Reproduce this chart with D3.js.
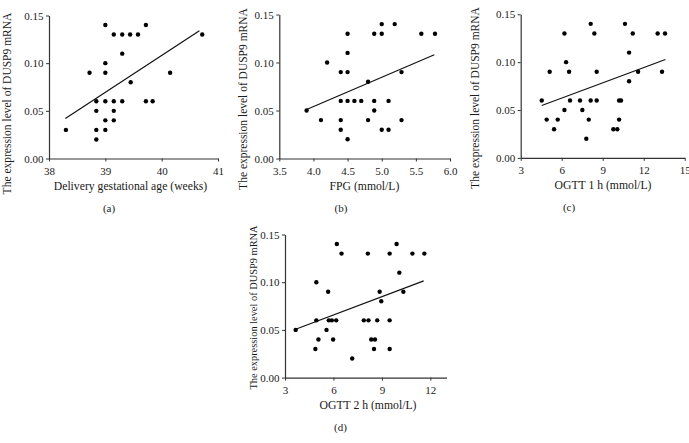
<!DOCTYPE html>
<html>
<head>
<meta charset="utf-8">
<script src="https://cdn.jsdelivr.net/npm/d3@7"></script>
<style>
  html, body { margin: 0; padding: 0; background: #fff; }
  svg { display: block; }
  text { font-family: "Liberation Serif", "Times New Roman", serif; fill: #1a1a1a; }
</style>
</head>
<body>
<svg id="chart" width="689" height="443"></svg>
<script>
// ---------------- DATA ----------------
const yTickValues = [0, 0.05, 0.10, 0.15];
const yTickLabels = ["0.00", "0.05", "0.10", "0.15"];
const yTitle = "The expression level of DUSP9 mRNA";

// (a) Delivery gestational age
const aX = [38.30, 38.84, 38.84, 38.84, 38.84, 38.72, 39.00, 39.00, 39.00, 39.00, 39.00, 39.00,
            39.15, 39.15, 39.15, 39.15, 39.30, 39.30, 39.30, 39.44, 39.45, 39.58, 39.72, 39.72,
            39.84, 40.15, 40.72];
const aY = [0.03, 0.06, 0.05, 0.03, 0.02, 0.09, 0.14, 0.10, 0.09, 0.06, 0.04, 0.03,
            0.13, 0.06, 0.05, 0.04, 0.13, 0.11, 0.06, 0.13, 0.08, 0.13, 0.14, 0.06,
            0.06, 0.09, 0.13];
const aFitX = [38.29, 40.67];
const aFitY = [0.042, 0.134];
const aTicks = [38, 39, 40, 41];
const aTickLabels = ["38", "39", "40", "41"];
const aTitle = "Delivery gestational age (weeks)";

// (b) FPG
const bX = [3.90, 4.11, 4.20, 4.40, 4.50, 4.50, 4.50, 4.40, 4.50, 4.60, 4.70, 4.40, 4.40, 4.50,
            4.80, 4.80, 4.89, 4.89, 4.89, 5.00, 5.00, 5.00, 5.10, 5.10, 5.19, 5.29, 5.29, 5.58, 5.78];
const bY = [0.05, 0.04, 0.10, 0.09, 0.09, 0.13, 0.11, 0.06, 0.06, 0.06, 0.06, 0.04, 0.03, 0.02,
            0.08, 0.04, 0.13, 0.06, 0.05, 0.14, 0.13, 0.03, 0.06, 0.03, 0.14, 0.09, 0.04, 0.13, 0.13];
const bFitX = [3.90, 5.77];
const bFitY = [0.051, 0.108];
const bTicks = [3.5, 4.0, 4.5, 5.0, 5.5, 6.0];
const bTickLabels = ["3.5", "4.0", "4.5", "5.0", "5.5", "6.0"];
const bTitle = "FPG (mmol/L)";

// (c) OGTT 1 h
const cX = [4.54, 4.90, 5.12, 5.44, 5.71, 6.20, 6.20, 6.32, 6.54, 6.61, 7.34, 7.51, 7.80, 7.98,
            8.12, 8.12, 8.39, 8.56, 8.56, 9.78, 10.07, 10.20, 10.34, 10.20, 10.63, 10.93, 10.93,
            11.20, 11.59, 13.02, 13.34, 13.56];
const cY = [0.06, 0.04, 0.09, 0.03, 0.04, 0.13, 0.05, 0.10, 0.09, 0.06, 0.06, 0.05, 0.02, 0.04,
            0.14, 0.06, 0.13, 0.09, 0.06, 0.03, 0.03, 0.06, 0.06, 0.04, 0.14, 0.11, 0.08,
            0.13, 0.09, 0.13, 0.09, 0.13];
const cFitX = [4.54, 13.59];
const cFitY = [0.0547, 0.1028];
const cTicks = [3, 6, 9, 12, 15];
const cTickLabels = ["3", "6", "9", "12", "15"];
const cTitle = "OGTT 1 h (mmol/L)";

// (d) OGTT 2 h
const dX = [3.66, 4.88, 4.94, 4.94, 5.07, 5.57, 5.67, 5.71, 5.90, 5.98, 6.17, 6.21, 6.50, 7.16,
            7.88, 8.13, 8.17, 8.34, 8.57, 8.51, 8.71, 8.86, 8.96, 9.48, 9.48, 9.48, 9.91, 10.08,
            10.33, 10.89, 11.63];
const dY = [0.05, 0.03, 0.10, 0.06, 0.04, 0.05, 0.09, 0.06, 0.06, 0.04, 0.06, 0.14, 0.13, 0.02,
            0.06, 0.13, 0.06, 0.04, 0.04, 0.03, 0.06, 0.09, 0.08, 0.13, 0.06, 0.03, 0.14, 0.11,
            0.09, 0.13, 0.13];
const dFitX = [3.66, 11.59];
const dFitY = [0.0507, 0.1014];
const dTicks = [3, 6, 9, 12];
const dTickLabels = ["3", "6", "9", "12"];
const dTitle = "OGTT 2 h (mmol/L)";

// ---------------- LAYOUT ----------------
const panels = [
  { xs: aX, ys: aY, fx: aFitX, fy: aFitY, ticks: aTicks, tl: aTickLabels, title: aTitle, tag: "(a)",
    dom: [38, 41], x0: 49, x1: 218, yT: 15.5, yB: 158.5,
    ytX: 11, ytY: 103.5, ytFS: 11.5, xtX: 130.5, tagX: 109 },
  { xs: bX, ys: bY, fx: bFitX, fy: bFitY, ticks: bTicks, tl: bTickLabels, title: bTitle, tag: "(b)",
    dom: [3.5, 6.0], x0: 279.3, x1: 450, yT: 14.5, yB: 158.5,
    ytX: 246.5, ytY: 99, ytFS: 11.5, xtX: 364.5, tagX: 341 },
  { xs: cX, ys: cY, fx: cFitX, fy: cFitY, ticks: cTicks, tl: cTickLabels, title: cTitle, tag: "(c)",
    dom: [3, 15], x0: 520.7, x1: 684.7, yT: 14.3, yB: 157.9,
    ytX: 479, ytY: 98, ytFS: 11.5, xtX: 603, tagX: 569 },
  { xs: dX, ys: dY, fx: dFitX, fy: dFitY, ticks: dTicks, tl: dTickLabels, title: dTitle, tag: "(d)",
    dom: [3, 13], x0: 285, x1: 446.5, yT: 234.5, yB: 377.6,
    ytX: 256.5, ytY: 307.5, ytFS: 10.4, xtX: 368, tagX: 340.5 }
];

const svg = d3.select("#chart");
const FS = 11;
const TFS = 11.7;

panels.forEach(p => {
  const g = svg.append("g");
  const x = d3.scaleLinear().domain(p.dom).range([p.x0, p.x1]);
  const y = d3.scaleLinear().domain([0, 0.15]).range([p.yB, p.yT]);

  const xAxis = d3.axisBottom(x).tickValues(p.ticks)
    .tickFormat((d, i) => p.tl[i]).tickSize(3).tickSizeOuter(0).tickPadding(5.5);
  const yAxis = d3.axisLeft(y).tickValues(yTickValues)
    .tickFormat((d, i) => yTickLabels[i]).tickSize(3).tickSizeOuter(0).tickPadding(2.5);

  const gx = g.append("g").attr("transform", `translate(0,${p.yB})`).call(xAxis);
  const gy = g.append("g").attr("transform", `translate(${p.x0},0)`).call(yAxis);
  [gx, gy].forEach(ax => {
    ax.select(".domain").attr("stroke", "#333").attr("stroke-width", 1.2);
    ax.selectAll(".tick line").attr("stroke", "#333").attr("stroke-width", 1);
    ax.selectAll(".tick text").attr("font-family", "Liberation Serif, serif")
      .attr("font-size", FS).attr("fill", "#111");
  });

  // regression line
  g.append("line")
    .attr("x1", x(p.fx[0])).attr("y1", y(p.fy[0]))
    .attr("x2", x(p.fx[1])).attr("y2", y(p.fy[1]))
    .attr("stroke", "#111").attr("stroke-width", 1.2);

  // points
  g.selectAll("circle.pt").data(p.xs.map((v, i) => [v, p.ys[i]])).enter()
    .append("circle").attr("class", "pt")
    .attr("cx", d => x(d[0])).attr("cy", d => y(d[1]))
    .attr("r", 2.2).attr("fill", "#000");

  // titles
  g.append("text")
    .attr("transform", `translate(${p.ytX},${p.ytY}) rotate(-90)`)
    .attr("text-anchor", "middle").attr("font-size", p.ytFS).attr("fill", "#111").text(yTitle);
  g.append("text")
    .attr("x", p.xtX).attr("y", p.yB + 31.5)
    .attr("text-anchor", "middle").attr("font-size", TFS).attr("fill", "#111").text(p.title);
  g.append("text")
    .attr("x", p.tagX).attr("y", p.yB + 53.5)
    .attr("text-anchor", "middle").attr("font-size", FS).attr("fill", "#111").text(p.tag);
});
</script>
</body>
</html>
